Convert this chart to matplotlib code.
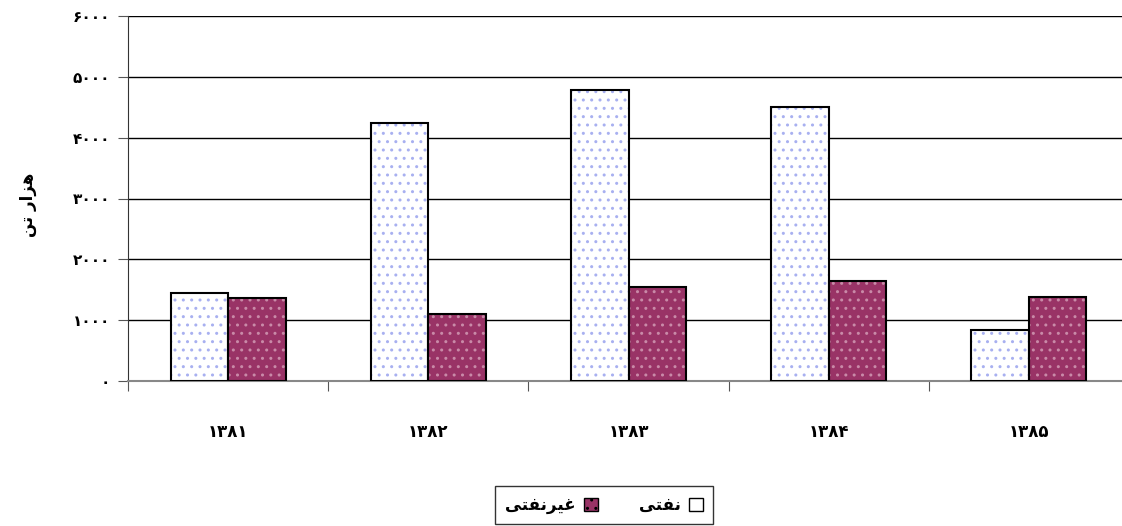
#!/usr/bin/env python3

import matplotlib
matplotlib.use("Agg")
import matplotlib.pyplot as plt
from matplotlib.patches import Rectangle
import numpy as np

plt.rcParams['font.family'] = ['DejaVu Sans']
plt.rcParams['font.weight'] = 'bold'

# Persian text written in shaped (presentation) forms, visual order,
# since matplotlib does no Arabic shaping on its own
years = ["۱۳۸۱", "۱۳۸۲", "۱۳۸۳", "۱۳۸۴", "۱۳۸۵"]
oil = [1450, 4240, 4790, 4500, 840]          # نفتی
non_oil = [1365, 1105, 1550, 1640, 1380]     # غیرنفتی
yticks = [0, 1000, 2000, 3000, 4000, 5000, 6000]
ytick_labels = ["۰", "۱۰۰۰", "۲۰۰۰", "۳۰۰۰", "۴۰۰۰", "۵۰۰۰", "۶۰۰۰"]
label_oil = "\ufef0\ufe98\ufed4\ufee7"                      # نفتی
label_non_oil = "\ufef0\ufe98\ufed4\ufee7\ufeae\ufef4\ufecf"  # غیرنفتی
ylabel = "\ufee6\ufe97 \ufead\ufe8d\ufeb0\ufeeb"             # هزار تن

maroon = "#993366"

fig = plt.figure(figsize=(11.22, 5.26), dpi=100)
ax = fig.add_axes([128 / 1122, 1 - 381 / 526, 1001 / 1122, 365 / 526])

x = np.arange(len(years))
w = 0.2875

# pattern layer, then black outline on top
ax.bar(x - w / 2, oil, w, color="white", hatch="..", edgecolor="#a8b0f0",
       linewidth=0, zorder=3)
ax.bar(x - w / 2, oil, w, fill=False, edgecolor="black", linewidth=1.5, zorder=4)
ax.bar(x + w / 2, non_oil, w, color=maroon, hatch="..", edgecolor="#c98aa8",
       linewidth=0, zorder=3)
ax.bar(x + w / 2, non_oil, w, fill=False, edgecolor="black", linewidth=1.5, zorder=4)

ax.set_xlim(-0.5, len(years) - 0.5)
ax.set_ylim(0, 6000)

ax.set_yticks(yticks)
ax.set_yticklabels(ytick_labels, fontsize=11, fontweight="bold")
ax.yaxis.grid(True, color="black", linewidth=1, zorder=0)
ax.set_axisbelow(True)

ax.set_xticks(np.arange(-0.5, len(years), 1.0))
ax.set_xticklabels([])
ax.set_xticks(x, minor=True)
ax.set_xticklabels(years, minor=True, fontsize=12, fontweight="bold")
ax.tick_params(axis="x", which="minor", length=0, pad=30)
ax.tick_params(axis="x", which="major", length=7, color="#555555")
ax.tick_params(axis="y", length=7, color="#555555", pad=6)

for s in ["top", "right"]:
    ax.spines[s].set_visible(False)
ax.spines["left"].set_color("#333333")
ax.spines["bottom"].set_color("#888888")
ax.spines["bottom"].set_linewidth(1.5)

fig.text(28 / 1122, 1 - 205 / 526, ylabel, rotation=90, ha="center", va="center",
         fontsize=12, fontweight="bold")

h_non = Rectangle((0, 0), 1, 1, facecolor=maroon, edgecolor="black", hatch="..")
h_oil = Rectangle((0, 0), 1, 1, facecolor="white", edgecolor="black")
leg = fig.legend([h_non, h_oil], [label_non_oil, label_oil], ncol=2,
                 loc="center", bbox_to_anchor=(604 / 1122, 1 - 505 / 526),
                 markerfirst=False, frameon=True, fancybox=False,
                 edgecolor="black", fontsize=12, handlelength=0.8,
                 handleheight=0.8, columnspacing=2.5, handletextpad=0.5,
                 borderpad=0.6)
leg.get_frame().set_linewidth(1)

fig.savefig("out.png", dpi=100)
